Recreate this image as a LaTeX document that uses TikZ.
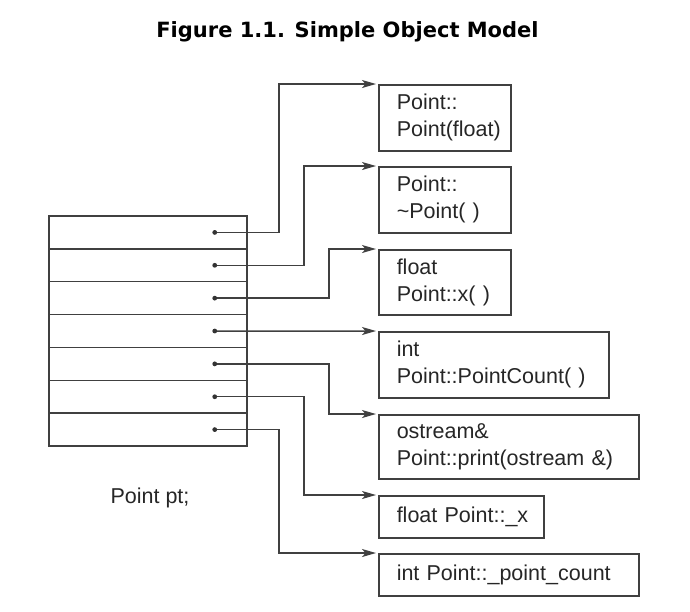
\documentclass[tikz,border=0pt]{standalone}
\usepackage{fontspec}
\setmainfont{Liberation Sans}
\newfontfamily\titlefont{DejaVu Sans}
\usetikzlibrary{arrows.meta,positioning}

\begin{document}
\begin{tikzpicture}[x=1pt,y=-1pt,line width=1.5pt,
 cell/.style={draw=black!75,minimum width=198pt,minimum height=32.86pt,inner sep=0pt},
 fn/.style={draw=black!75,anchor=north west,align=left,inner xsep=18pt,inner ysep=0pt,
  font=\fontsize{21.5}{27}\selectfont,text=black!85},
 link/.style={draw=black!75,-{Stealth[length=14pt,width=8pt,inset=3.5pt]},shorten >=2pt}]
 \useasboundingbox (0,0) rectangle (690,611);
 \node[font=\titlefont\bfseries\fontsize{21}{24}\selectfont,anchor=base] (title) at (347.5,37) {Figure 1.1. Simple Object Model};
 % the object pt
 \foreach \i in {1,...,7}{
  \node[cell] (r\i) at (148,{216+32.86*(\i-0.5)}) {};
  \coordinate (d\i) at ([xshift=-33pt]r\i.east);
 }
 \node[anchor=base,font=\fontsize{21.5}{27}\selectfont,text=black!85] (ptlbl) at (150,503) {Point pt;};
 % the members
 \node[fn,text width=96pt,minimum height=66pt] (b1) at (378,84) {Point::\\Point(float)};
 \node[fn,text width=96pt,minimum height=66pt] (b2) at (378,166) {Point::\\\textasciitilde Point(~)};
 \node[fn,text width=96pt,minimum height=65pt] (b3) at (378,249) {float\\Point::x(~)};
 \node[fn,text width=194pt,minimum height=66pt] (b4) at (378,331) {int\\Point::PointCount(~)};
 \node[fn,text width=224pt,minimum height=64pt] (b5) at (378,414) {ostream\&\\Point::print(ostream~\&)};
 \node[fn,text width=129pt,minimum height=42pt] (b6) at (378,495) {float~Point::\_x};
 \node[fn,text width=224pt,minimum height=42pt] (b7) at (378,553) {int~Point::\_point\_count};
 % pointers
 \foreach \i/\s in {1/99,2/74,3/49,5/49,6/74,7/99}
  \draw[link] (d\i) -| ([xshift=-\s pt]b\i.north west) -- (b\i.north west);
 \draw[link] (d4) -- (b4.north west);
 \foreach \i in {1,...,7}
  \fill[black!80] (d\i) circle (2.4pt);
\end{tikzpicture}
\end{document}
